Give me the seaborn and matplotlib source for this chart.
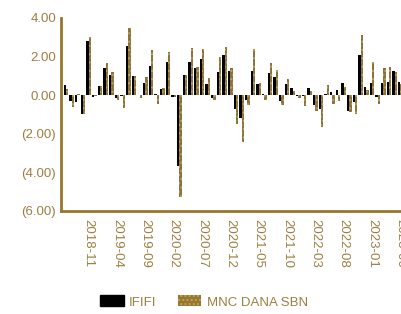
import pandas as pd
import matplotlib
matplotlib.use('Agg')
import matplotlib.pyplot as plt
import seaborn as sns
from matplotlib.patches import Patch


# monthly returns, 2018-07 .. 2023-06
months = pd.date_range('2018-07-01', '2023-06-01', freq='MS').strftime('%Y-%m').tolist()

ififi = [0.54, -0.30, -0.35, -0.95, 2.80, -0.10, 0.50, 1.43, 1.06, -0.17,
         -0.05, 2.54, 0.97, 0.02, 0.64, 1.50, 0.08, 0.30, 1.74, -0.09,
         -3.67, 1.04, 1.70, 1.41, 1.90, 0.56, -0.16, 1.22, 2.07, 1.25,
         -0.71, -1.18, -0.23, 1.27, 0.56, 0.05, 1.17, 0.92, -0.31, 0.56,
         0.35, -0.05, -0.05, 0.35, -0.52, -0.71, 0.05, 0.14, 0.28, 0.61,
         -0.83, -0.37, 2.07, 0.45, 0.64, -0.10, 0.61, 0.68, 1.23, 0.68]

mnc = [0.30, -0.60, 0.05, -1.00, 3.00, -0.05, 0.50, 1.67, 1.20, -0.27,
       -0.67, 3.48, 0.97, -0.12, 0.92, 2.35, -0.45, 0.38, 2.26, -0.09,
       -5.30, 1.04, 2.45, 1.46, 2.37, 0.89, -0.23, 2.00, 2.52, 1.39,
       -1.48, -2.40, -0.49, 2.40, 0.64, -0.23, 1.67, 1.29, -0.52, 0.85,
       0.21, -0.12, -0.54, 0.24, -0.80, -1.67, 0.52, -0.47, -0.31, 0.45,
       -0.89, -0.97, 3.11, 0.26, 1.72, -0.45, 1.39, 1.44, 1.20, 0.60]

series = ['IFIFI', 'MNC DANA SBN']

gold = '#97772F'
gold_light = '#BFA25E'
textc = '#9C7F42'

df = pd.DataFrame({'month': months * 2,
                   'value': ififi + mnc,
                   'fund': [series[0]] * len(months) + [series[1]] * len(months)})

plt.rcParams['font.family'] = ['Liberation Sans', 'DejaVu Sans']

fig = plt.figure(figsize=(4.01, 3.14), dpi=100)
ax = fig.add_axes([61 / 401, 103 / 314, 345 / 401, 193 / 314])

sns.barplot(data=df, x='month', y='value', hue='fund', hue_order=series,
            palette=['black', gold], width=0.8, ax=ax, legend=False)

n = len(months)
for i, p in enumerate(ax.patches):
    p.set_linewidth(0)
    if i >= n:
        p.set_hatch('....')
        p.set_edgecolor(gold_light)

ax.set_xlim(-0.88, n)
ax.set_ylim(-6, 4)
ax.set_yticks([4, 2, 0, -2, -4, -6])
ax.set_yticklabels(['4.00', '2.00', '0.00', '(2.00)', '(4.00)', '(6.00)'])
ticks = list(range(4, n, 5))
ax.set_xticks(ticks)
ax.set_xticklabels([months[t] for t in ticks], rotation=-90)
ax.tick_params(length=0, colors=textc, labelsize=9.5)
ax.tick_params(axis='x', pad=6)
ax.set_xlabel('')
ax.set_ylabel('')

for s in ['top', 'right']:
    ax.spines[s].set_visible(False)
for s in ['left', 'bottom']:
    ax.spines[s].set_color(gold)
    ax.spines[s].set_linewidth(2)

handles = [Patch(facecolor='black', edgecolor='black', label=series[0]),
           Patch(facecolor=gold, edgecolor=gold_light, hatch='....', linewidth=0, label=series[1])]
fig.legend(handles=handles, loc='center', bbox_to_anchor=(204 / 401, 1 - 302 / 314),
           ncol=2, frameon=False, handlelength=1.8, handleheight=0.9,
           handletextpad=0.4, columnspacing=1.6, fontsize=9.5, labelcolor=textc)

fig.savefig('out.png', dpi=100)
